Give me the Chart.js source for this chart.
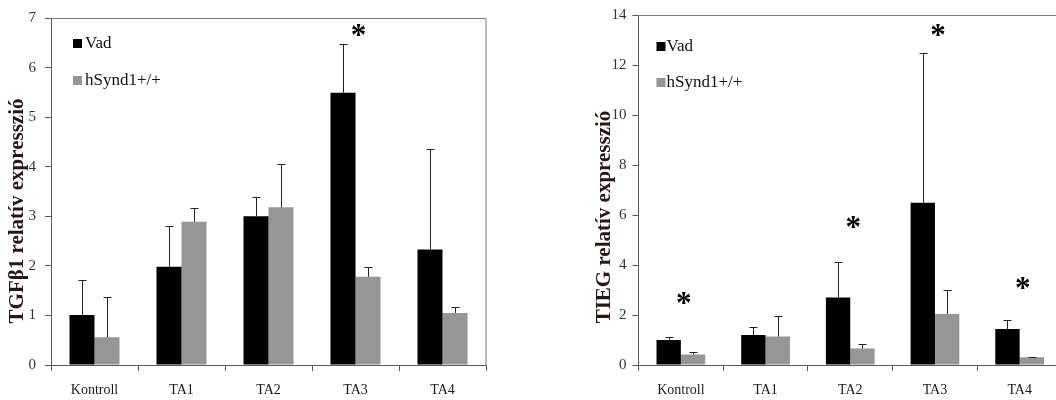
<!DOCTYPE html>
<html><head><meta charset="utf-8">
<script src="https://cdn.jsdelivr.net/npm/chart.js@4.4.1/dist/chart.umd.min.js"></script>
<style>
html,body{margin:0;padding:0;overflow:hidden;background:#fff;width:1056px;height:400px;}
#c1{position:absolute;left:0;top:0;}
#c2{position:absolute;left:560px;top:0;}
</style></head><body>
<canvas id="c1" width="528" height="400"></canvas>
<canvas id="c2" width="510" height="400"></canvas>
<script>
// ---- data ----
const categories = ['Kontroll', 'TA1', 'TA2', 'TA3', 'TA4'];
const seriesNames = ['Vad', 'hSynd1+/+'];

// TGFβ1 chart
const tgfVad      = [1.01, 1.98, 3.00, 5.49, 2.33];
const tgfVadErr   = [0.70, 0.83, 0.38, 0.98, 2.03];
const tgfSynd     = [0.56, 2.89, 3.18, 1.78, 1.05];
const tgfSyndErr  = [0.81, 0.28, 0.87, 0.20, 0.11];
const tgfStars    = [null, null, null, 6.75, null];
const tgfTicks    = [0, 1, 2, 3, 4, 5, 6, 7];

// TIEG chart
const tiegVad     = [1.00, 1.20, 2.70, 6.49, 1.44];
const tiegVadErr  = [0.13, 0.33, 1.42, 5.98, 0.38];
const tiegSynd    = [0.42, 1.14, 0.66, 2.04, 0.31];
const tiegSyndErr = [0.10, 0.81, 0.19, 0.95, 0.03];
const tiegStars   = [2.68, null, 5.72, 13.4, 3.28];
const tiegTicks   = [0, 2, 4, 6, 8, 10, 12, 14];

const titles = ['TGFβ1 relatív expresszió', 'TIEG relatív expresszió'];

// ---- styles ----
const BLACK = '#000000', GRAY = '#969696';
const SERIF = '"Liberation Serif", "Times New Roman", serif';
const AXIS = '#595959';

// ---- plugins ----
const errorBars = {
  id: 'errorBars',
  afterDatasetsDraw(chart) {
    const ctx = chart.ctx, y = chart.scales.y;
    ctx.save();
    ctx.strokeStyle = '#222';
    ctx.lineWidth = 1;
    chart.data.datasets.forEach((ds, i) => {
      const meta = chart.getDatasetMeta(i);
      meta.data.forEach((bar, j) => {
        const top = y.getPixelForValue(ds.data[j] + ds.errors[j]);
        const x = Math.round(bar.x) + 0.5;
        const yt = Math.round(top) + 0.5;
        ctx.beginPath();
        ctx.moveTo(x, bar.y);
        ctx.lineTo(x, yt);
        ctx.moveTo(x - 4, yt);
        ctx.lineTo(x + 4, yt);
        ctx.stroke();
      });
    });
    ctx.restore();
  }
};

const stars = {
  id: 'stars',
  afterDatasetsDraw(chart, args, opts) {
    const ctx = chart.ctx, xs = chart.scales.x, ys = chart.scales.y;
    ctx.save();
    ctx.fillStyle = '#000';
    ctx.font = 'bold 31px ' + SERIF;
    ctx.textAlign = 'center';
    ctx.textBaseline = 'alphabetic';
    (opts.levels || []).forEach((lv, j) => {
      if (lv === null) return;
      const x = xs.getPixelForValue(j) + 3;
      const y = ys.getPixelForValue(lv);
      ctx.fillText('*', x, y + 0.47 * 31);
    });
    ctx.restore();
  }
};

const frame = {
  id: 'frame',
  beforeDatasetsDraw(chart) {
    const {ctx, chartArea: a} = chart;
    ctx.save();
    ctx.strokeStyle = '#7a7a7a';
    ctx.lineWidth = 1;
    ctx.beginPath();
    ctx.moveTo(a.left, Math.round(a.top) + 0.5);
    ctx.lineTo(a.right, Math.round(a.top) + 0.5);
    ctx.lineTo(a.right, a.bottom);
    ctx.stroke();
    ctx.restore();
  }
};

const boxLegend = {
  id: 'boxLegend',
  afterDraw(chart, args, opts) {
    const {ctx, chartArea: a} = chart;
    ctx.save();
    ctx.font = '17px ' + SERIF;
    ctx.textBaseline = 'middle';
    ctx.textAlign = 'left';
    chart.data.datasets.forEach((ds, i) => {
      const cy = opts.rows[i];
      const sx = a.left + opts.dx;
      ctx.fillStyle = ds.backgroundColor;
      ctx.fillRect(sx, cy - 4, 9, 9);
      ctx.fillStyle = '#111';
      ctx.fillText(ds.label, sx + opts.gap, cy + 1);
    });
    ctx.restore();
  }
};

const yTitle = {
  id: 'yTitle',
  afterDraw(chart, args, opts) {
    const ctx = chart.ctx;
    ctx.save();
    ctx.translate(opts.x, opts.y);
    ctx.rotate(-Math.PI / 2);
    ctx.font = 'bold 21px ' + SERIF;
    ctx.fillStyle = '#2a1616';
    ctx.textAlign = 'center';
    ctx.textBaseline = 'middle';
    ctx.fillText(opts.text, 0, 0);
    ctx.restore();
  }
};

function makeChart(id, vad, vadErr, synd, syndErr, ticks, starLevels, title, cfg) {
  const step = ticks[1] - ticks[0];
  return new Chart(document.getElementById(id), {
    type: 'bar',
    data: {
      labels: categories,
      datasets: [
        {label: seriesNames[0], data: vad, errors: vadErr, backgroundColor: BLACK,
         categoryPercentage: 0.575, barPercentage: 1.0, borderWidth: 0},
        {label: seriesNames[1], data: synd, errors: syndErr, backgroundColor: GRAY,
         categoryPercentage: 0.575, barPercentage: 1.0, borderWidth: 0}
      ]
    },
    plugins: [frame, errorBars, stars, boxLegend, yTitle],
    options: {
      responsive: false,
      animation: false,
      events: [],
      layout: {padding: {top: 14, right: cfg.padRight, left: 0, bottom: 0}},
      plugins: {
        legend: {display: false},
        tooltip: {enabled: false},
        stars: {levels: starLevels},
        boxLegend: {dx: cfg.legDx, gap: cfg.legGap, rows: cfg.legRows},
        yTitle: {text: title, x: cfg.titleX, y: cfg.titleY}
      },
      scales: {
        x: {
          grid: {display: true, drawOnChartArea: false, drawTicks: true, tickLength: 6, color: AXIS, offset: true},
          border: {display: true, color: AXIS, width: 1},
          ticks: {font: {family: SERIF, size: 14}, color: '#1a1a1a', padding: 11, maxRotation: 0},
          afterFit(s) { s.height = 35; }
        },
        y: {
          min: ticks[0], max: ticks[ticks.length - 1],
          grid: {display: true, drawOnChartArea: false, drawTicks: true, tickLength: 6, color: AXIS},
          border: {display: true, color: AXIS, width: 1},
          ticks: {stepSize: step, font: {family: SERIF, size: 15}, color: '#333', padding: cfg.tickPad},
          afterFit(s) { s.width = cfg.yWidth; }
        }
      }
    }
  });
}

makeChart('c1', tgfVad, tgfVadErr, tgfSynd, tgfSyndErr, tgfTicks, tgfStars, titles[0],
  {padRight: 42, yWidth: 51, tickPad: 9, legDx: 22, legGap: 12, legRows: [43, 80], titleX: 18, titleY: 211});
makeChart('c2', tiegVad, tiegVadErr, tiegSynd, tiegSyndErr, tiegTicks, tiegStars, titles[1],
  {padRight: 8, yWidth: 78.5, tickPad: 6, legDx: 18, legGap: 10, legRows: [46, 82], titleX: 45, titleY: 217});
</script>
</body></html>
